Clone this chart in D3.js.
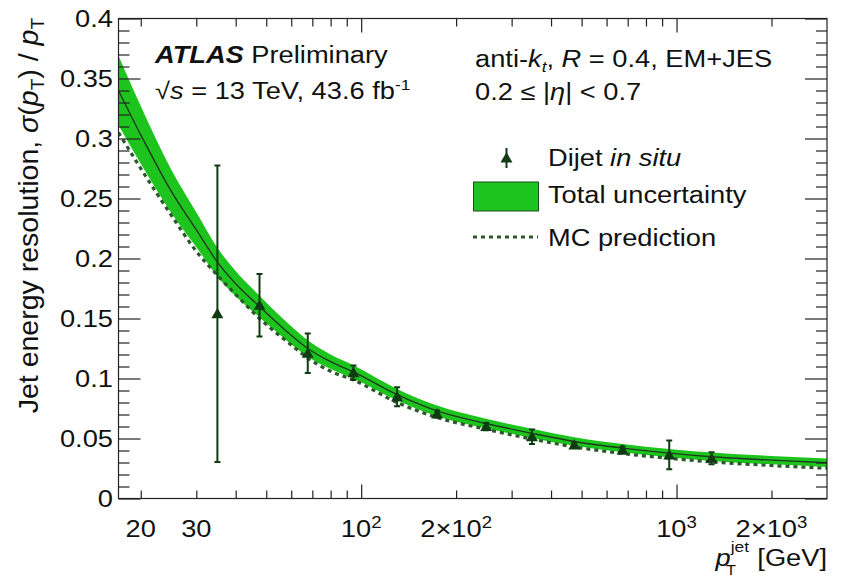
<!DOCTYPE html>
<html>
<head>
<meta charset="utf-8">
<script src="https://cdn.jsdelivr.net/npm/d3@7"></script>
<style>
  body { margin: 0; background: #fff; }
  text { font-family: "Liberation Sans", Arial, Helvetica, sans-serif; fill: #111; }
</style>
</head>
<body>
<div id="chart"></div>
<script>
// measured points (Dijet in situ)
var ptPoints  = [35.0, 47.6, 67.7, 94.5, 130, 174, 249, 348, 474, 674, 948, 1291];
var resPoints = [0.154, 0.161, 0.121, 0.1048, 0.0848, 0.0704, 0.0599, 0.0515, 0.0446, 0.0404, 0.0363, 0.0335];
var resErrors = [0.1235, 0.026, 0.0165, 0.006, 0.008, 0.003, 0.003, 0.006, 0.002, 0.003, 0.012, 0.005];

var curvePt   = [17, 20, 25, 30, 35, 40, 47.6, 60, 67.7, 80, 94.5, 130, 174, 249, 348, 474, 674, 948, 1291, 2000, 3000];
var fitValues = [0.340, 0.303, 0.256, 0.224, 0.197, 0.179, 0.160, 0.136, 0.125, 0.114, 0.1055, 0.0865, 0.0730, 0.0625, 0.0543, 0.0475, 0.0420, 0.0378, 0.0348, 0.0320, 0.0298];
var fitUncert = [0.029, 0.024, 0.018, 0.0145, 0.012, 0.0105, 0.009, 0.0075, 0.0068, 0.006, 0.0055, 0.0048, 0.0044, 0.004, 0.0038, 0.0036, 0.0035, 0.0035, 0.0035, 0.0035, 0.0035];
var mcValues  = [0.305, 0.275, 0.236, 0.206, 0.186, 0.170, 0.150, 0.128, 0.117, 0.106, 0.0988, 0.0800, 0.0675, 0.0577, 0.0495, 0.0430, 0.0375, 0.0335, 0.0305, 0.0275, 0.0252];

// axis ticks
var xMajor = [100, 1000];
var xMinor = [20, 30, 40, 50, 60, 70, 80, 90, 200, 300, 400, 500, 600, 700, 800, 900, 2000];
var xLabels = [[20, '20', ''], [30, '30', ''], [100, '10', '2'], [200, '2\u00d710', '2'], [1000, '10', '3'], [2000, '2\u00d710', '3']];
var yMajor = [0, 0.05, 0.1, 0.15, 0.2, 0.25, 0.3, 0.35, 0.4];
var yLabels = ['0', '0.05', '0.1', '0.15', '0.2', '0.25', '0.3', '0.35', '0.4'];

var width = 841, height = 579;
var pLeft = 118.5, pRight = 827, pTop = 18.5, pBottom = 498.5;
var sx = 1.16; // the original picture is a bit wider than tall
var fs = 23.5;
var green = '#1ec41e', dark = '#0f3a12', mcColor = '#2a582a';

var svg = d3.select('#chart').append('svg')
    .attr('width', width)
    .attr('height', height);

var x = d3.scaleLog().domain([17, 3000]).range([pLeft, pRight]);
var y = d3.scaleLinear().domain([0, 0.4]).range([pBottom, pTop]);

var curve = curvePt.map(function(p, i) {
    return {pt: p, v: fitValues[i], u: fitUncert[i], mc: mcValues[i]};
});

svg.append('defs').append('clipPath').attr('id', 'clip')
    .append('rect').attr('x', pLeft).attr('y', pTop)
    .attr('width', pRight - pLeft).attr('height', pBottom - pTop);

var plot = svg.append('g').attr('clip-path', 'url(#clip)');

var band = d3.area()
    .x(function(d) { return x(d.pt); })
    .y0(function(d) { return y(d.v - d.u); })
    .y1(function(d) { return y(d.v + d.u); })
    .curve(d3.curveMonotoneX);

plot.append('path').datum(curve)
    .attr('d', band)
    .attr('fill', green);

plot.append('path').datum(curve)
    .attr('d', d3.line().x(function(d) { return x(d.pt); }).y(function(d) { return y(d.v); }).curve(d3.curveMonotoneX))
    .attr('fill', 'none')
    .attr('stroke', '#1d3a1d')
    .attr('stroke-width', 1.4);

plot.append('path').datum(curve)
    .attr('d', d3.line().x(function(d) { return x(d.pt); }).y(function(d) { return y(d.mc); }).curve(d3.curveMonotoneX))
    .attr('fill', 'none')
    .attr('stroke', mcColor)
    .attr('stroke-width', 3.2)
    .attr('stroke-dasharray', '4,4');

// data points with error bars
var pts = ptPoints.map(function(p, i) { return {pt: p, v: resPoints[i], e: resErrors[i]}; });
var tri = d3.symbol().type(d3.symbolTriangle).size(62);

var pg = plot.selectAll('.pt').data(pts).enter().append('g')
    .attr('class', 'pt')
    .attr('transform', function(d) { return 'translate(' + x(d.pt) + ',0)'; });
pg.append('line')
    .attr('y1', function(d) { return y(d.v + d.e); })
    .attr('y2', function(d) { return y(d.v - d.e); })
    .attr('stroke', dark).attr('stroke-width', 2);
pg.append('line')
    .attr('x1', -3).attr('x2', 3)
    .attr('y1', function(d) { return y(d.v + d.e); })
    .attr('y2', function(d) { return y(d.v + d.e); })
    .attr('stroke', dark).attr('stroke-width', 2);
pg.append('line')
    .attr('x1', -3).attr('x2', 3)
    .attr('y1', function(d) { return y(d.v - d.e); })
    .attr('y2', function(d) { return y(d.v - d.e); })
    .attr('stroke', dark).attr('stroke-width', 2);
pg.append('path')
    .attr('d', tri)
    .attr('transform', function(d) { return 'translate(0,' + (y(d.v) + 1) + ')'; })
    .attr('fill', dark);

// axes, ticks on the inside on all four sides
function styleAxis(g) {
    g.select('.domain').remove();
    g.selectAll('line').attr('stroke', '#222').attr('stroke-width', 1.2);
}
svg.append('g').attr('transform', 'translate(0,' + pBottom + ')')
    .call(d3.axisBottom(x).tickValues(xMinor).tickSize(-8).tickFormat('')).call(styleAxis);
svg.append('g').attr('transform', 'translate(0,' + pBottom + ')')
    .call(d3.axisBottom(x).tickValues(xMajor).tickSize(-14).tickFormat('')).call(styleAxis);
svg.append('g').attr('transform', 'translate(0,' + pTop + ')')
    .call(d3.axisTop(x).tickValues(xMinor).tickSize(-8).tickFormat('')).call(styleAxis);
svg.append('g').attr('transform', 'translate(0,' + pTop + ')')
    .call(d3.axisTop(x).tickValues(xMajor).tickSize(-14).tickFormat('')).call(styleAxis);

var yMinor = d3.range(0, 41).filter(function(i) { return i % 5 !== 0; })
    .map(function(i) { return i / 100; });
svg.append('g').attr('transform', 'translate(' + pLeft + ',0)')
    .call(d3.axisLeft(y).tickValues(yMinor).tickSize(-11).tickFormat('')).call(styleAxis);
svg.append('g').attr('transform', 'translate(' + pLeft + ',0)')
    .call(d3.axisLeft(y).tickValues(yMajor).tickSize(-22).tickFormat('')).call(styleAxis);
svg.append('g').attr('transform', 'translate(' + pRight + ',0)')
    .call(d3.axisRight(y).tickValues(yMinor).tickSize(-11).tickFormat('')).call(styleAxis);
svg.append('g').attr('transform', 'translate(' + pRight + ',0)')
    .call(d3.axisRight(y).tickValues(yMajor).tickSize(-22).tickFormat('')).call(styleAxis);

svg.append('rect')
    .attr('x', pLeft).attr('y', pTop)
    .attr('width', pRight - pLeft).attr('height', pBottom - pTop)
    .attr('fill', 'none').attr('stroke', '#222').attr('stroke-width', 1.2);

// text helper: picture is stretched horizontally
function txt(px, py, anchor) {
    return svg.append('text')
        .attr('transform', 'translate(' + px + ',' + py + ') scale(' + sx + ',1)')
        .attr('text-anchor', anchor || 'start')
        .style('font-size', fs + 'px');
}

yMajor.forEach(function(v, i) {
    txt(113, y(v) + 8, 'end').text(yLabels[i]);
});
xLabels.forEach(function(l) {
    var t = txt(x(l[0]), 537, 'middle');
    t.append('tspan').text(l[1]);
    if (l[2]) t.append('tspan').attr('dy', -9).style('font-size', '16px').text(l[2]);
});

// y title
var yt = svg.append('text')
    .attr('transform', 'translate(38,18) rotate(-90)')
    .attr('text-anchor', 'end')
    .style('font-size', '28.5px');
yt.append('tspan').text('Jet energy resolution, ');
yt.append('tspan').style('font-style', 'italic').text('\u03c3');
yt.append('tspan').text('(');
yt.append('tspan').style('font-style', 'italic').text('p');
yt.append('tspan').attr('dy', 6).style('font-size', '19px').text('T');
yt.append('tspan').attr('dy', -6).text(') / ');
yt.append('tspan').style('font-style', 'italic').text('p');
yt.append('tspan').attr('dy', 6).style('font-size', '19px').text('T');

// x title
var xt = txt(827, 566, 'end');
xt.append('tspan').style('font-style', 'italic').text('p');
xt.append('tspan').attr('dy', -14).style('font-size', '15px').text('jet');
xt.append('tspan').attr('dx', -20).attr('dy', 23).style('font-size', '14px').text('T');
xt.append('tspan').attr('dx', 12).attr('dy', -9).text(' [GeV]');

// labels
var t1 = txt(155, 63);
t1.append('tspan').style('font-weight', 'bold').style('font-style', 'italic').text('ATLAS');
t1.append('tspan').text(' Preliminary');
var t2 = txt(155, 99);
t2.append('tspan').text('\u221a');
t2.append('tspan').style('font-style', 'italic').text('s');
t2.append('tspan').text(' = 13 TeV, 43.6 fb');
t2.append('tspan').attr('dy', -9).style('font-size', '15px').text('-1');

var t3 = txt(475, 66.5);
t3.append('tspan').text('anti-');
t3.append('tspan').style('font-style', 'italic').text('k');
t3.append('tspan').attr('dy', 5).style('font-size', '15px').style('font-style', 'italic').text('t');
t3.append('tspan').attr('dy', -5).text(', ');
t3.append('tspan').style('font-style', 'italic').text('R');
t3.append('tspan').text(' = 0.4, EM+JES');
var t4 = txt(475, 100);
t4.append('tspan').text('0.2 \u2264 |');
t4.append('tspan').style('font-style', 'italic').text('\u03b7');
t4.append('tspan').text('| < 0.7');

// legend
var lg = svg.append('g');
lg.append('line').attr('x1', 506.5).attr('x2', 506.5).attr('y1', 148).attr('y2', 168)
    .attr('stroke', dark).attr('stroke-width', 2);
lg.append('path').attr('d', tri).attr('transform', 'translate(506.5,159)').attr('fill', dark);
var l1 = txt(548, 166);
l1.append('tspan').text('Dijet ');
l1.append('tspan').style('font-style', 'italic').text('in situ');

lg.append('rect').attr('x', 473.5).attr('y', 182).attr('width', 65).attr('height', 29)
    .attr('fill', green).attr('stroke', '#1f4a1f').attr('stroke-width', 1);
txt(548, 203).text('Total uncertainty');

lg.append('line').attr('x1', 473).attr('x2', 538).attr('y1', 237).attr('y2', 237)
    .attr('stroke', mcColor).attr('stroke-width', 3.2).attr('stroke-dasharray', '4,4');
txt(548, 246).text('MC prediction');
</script>
</body>
</html>
